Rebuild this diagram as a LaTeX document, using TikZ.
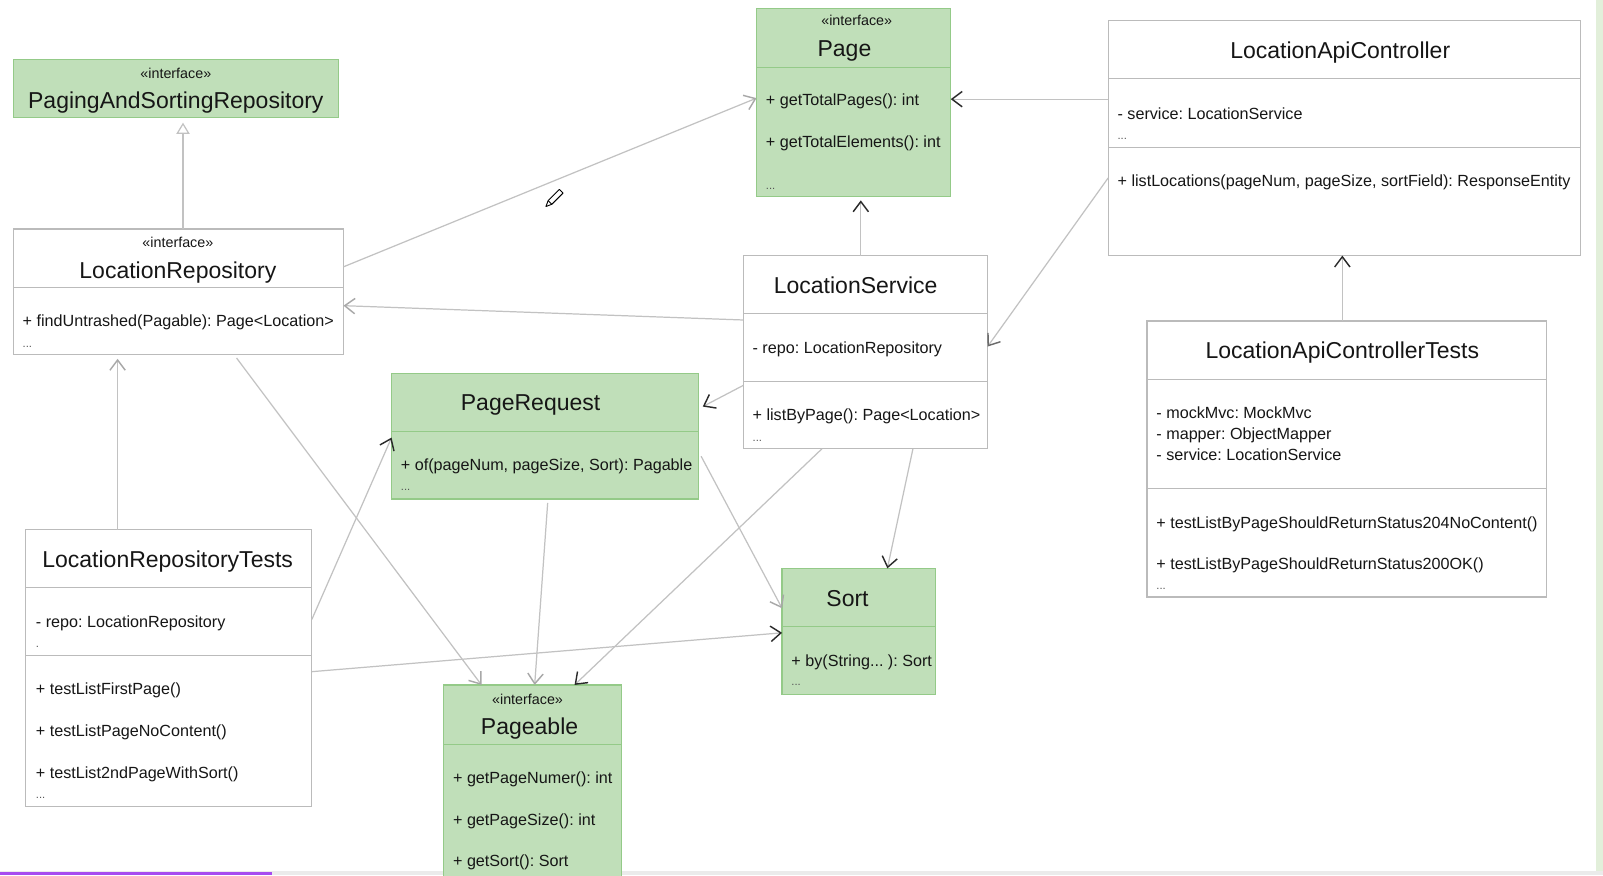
\documentclass[tikz,border=0pt]{standalone}
\usepackage{fontspec}
\setmainfont{Liberation Sans}
\frenchspacing
\usetikzlibrary{arrows.meta}
\definecolor{gfill}{HTML}{C0DFB9}
\definecolor{gline}{HTML}{94CA88}
\definecolor{bline}{HTML}{BBBBBB}
\definecolor{conn}{HTML}{C2C2C2}
\definecolor{txt}{HTML}{161616}
\definecolor{dottxt}{HTML}{555555}
\definecolor{tipdark}{HTML}{2A2A2A}
\definecolor{tipmid}{HTML}{6A6A6A}
\definecolor{tipgray}{HTML}{A8A8A8}
\definecolor{edgegreen}{HTML}{E2EFDA}
\definecolor{barpurple}{HTML}{A64CF0}
\tikzset{
  wbox/.style={draw=bline, fill=white, line width=1.2pt, anchor=north west, inner sep=0pt, outer sep=0pt},
  gbox/.style={draw=gline, fill=gfill, line width=1.2pt, anchor=north west, inner sep=0pt, outer sep=0pt},
  wsep/.style={draw=bline, line width=1.2pt},
  gsep/.style={draw=gline, line width=1.2pt},
  ttl/.style={anchor=base, inner sep=0pt, text=txt, font=\fontsize{22.5}{26}\selectfont},
  ster/.style={anchor=base, inner sep=0pt, text=txt, font=\fontsize{14}{16}\selectfont},
  mem/.style={anchor=base west, inner sep=0pt, text=txt, font=\fontsize{15.8}{18}\selectfont},
  dots/.style={anchor=base west, inner sep=0pt, text=dottxt, font=\fontsize{11}{13}\selectfont},
  conn/.style={draw=conn, line width=1.2pt},
  dk/.style={-{Straight Barb[length=10pt,width=15pt,color=tipdark,line width=1.4pt]}},
  md/.style={-{Straight Barb[length=10pt,width=15pt,color=tipmid,line width=1.4pt]}},
  gy/.style={-{Straight Barb[length=10pt,width=15pt,color=tipgray,line width=1.4pt]}},
  gen/.style={-{Triangle[open,fill=white,length=11pt,width=13pt,color=conn,line width=1.2pt]}}
}
\begin{document}
\begin{tikzpicture}[x=1pt,y=-1pt]
\useasboundingbox (0,0) rectangle (1568,856);
\clip (0,0) rectangle (1568,856);
\fill[white] (0,0) rectangle (1568,856);
\fill[edgegreen] (1561,0) rectangle (1568,856);
\fill[black!8] (0,852) rectangle (1568,856);
\fill[barpurple] (0,853) rectangle (266,856);

% ---------- boxes ----------
\node[gbox, minimum width=318pt, minimum height=57pt] (psr) at (13,58) {};
\node[ster] (psrs) at (172,77) {«interface»};
\node[ttl] (psrt) at (172,106) {PagingAndSortingRepository};

\node[wbox, minimum width=323pt, minimum height=123pt] (lr) at (13,224) {};
\node[ster] (lrs) at (174,242) {«interface»};
\node[ttl] (lrt0) at (174,272) {LocationRepository};
\draw[wsep] (lr.west |- 0,281) -- (lr.east |- 0,281);
\node[mem] (lrm1) at (22,319.5) {+ findUntrashed(Pagable): Page<Location>};
\node[dots] (lrd) at (22,340) {...};

\node[gbox, minimum width=190pt, minimum height=184pt] (page) at (740,8) {};
\node[ster] (pages) at (838,25) {«interface»};
\node[ttl] (paget) at (826,55) {Page};
\draw[gsep] (page.west |- 0,66) -- (page.east |- 0,66);
\node[mem] (pagem1) at (749,103.5) {+ getTotalPages(): int};
\node[mem] (pagem2) at (749,144.5) {+ getTotalElements(): int};
\node[dots] (paged) at (749,185) {...};

\node[wbox, minimum width=462pt, minimum height=230pt] (lac) at (1084,20) {};
\node[ttl] (lact0) at (1311,57) {LocationApiController};
\draw[wsep] (lac.west |- 0,77) -- (lac.east |- 0,77);
\node[mem] (lacm1) at (1093,116.5) {- service: LocationService};
\node[dots] (lacd) at (1093,136) {...};
\draw[wsep] (lac.west |- 0,144) -- (lac.east |- 0,144);
\node[mem] (lacm2) at (1093,182.5) {+ listLocations(pageNum, pageSize, sortField): ResponseEntity};

\node[wbox, minimum width=239pt, minimum height=189pt] (ls) at (727,250) {};
\node[ttl] (lst) at (837,287) {LocationService};
\draw[wsep] (ls.west |- 0,307) -- (ls.east |- 0,307);
\node[mem] (lsm1) at (736,345.5) {- repo: LocationRepository};
\draw[wsep] (ls.west |- 0,373) -- (ls.east |- 0,373);
\node[mem] (lsm2) at (736,411.5) {+ listByPage(): Page<Location>};
\node[dots] (lsd) at (736,432) {...};

\node[gbox, minimum width=300pt, minimum height=123pt] (pr) at (383,365) {};
\node[ttl] (prt) at (519,402) {PageRequest};
\draw[gsep] (pr.west |- 0,422) -- (pr.east |- 0,422);
\node[mem] (prm1) at (392,460.5) {+ of(pageNum, pageSize, Sort): Pagable};
\node[dots] (prd) at (392,480) {...};

\node[wbox, minimum width=391pt, minimum height=270pt] (lact) at (1122,314) {};
\node[ttl] (lactt) at (1313,351) {LocationApiControllerTests};
\draw[wsep] (lact.west |- 0,371) -- (lact.east |- 0,371);
\node[mem] (lactm1) at (1131,409.5) {- mockMvc: MockMvc};
\node[mem] (lactm2) at (1131,429.5) {- mapper: ObjectMapper};
\node[mem] (lactm3) at (1131,450.5) {- service: LocationService};
\draw[wsep] (lact.west |- 0,478) -- (lact.east |- 0,478);
\node[mem] (lactm4) at (1131,516.5) {+ testListByPageShouldReturnStatus204NoContent()};
\node[mem] (lactm5) at (1131,557.5) {+ testListByPageShouldReturnStatus200OK()};
\node[dots] (lactd) at (1131,577) {...};

\node[wbox, minimum width=280pt, minimum height=271pt] (lrt) at (25,518) {};
\node[ttl] (lrtt) at (164,555) {LocationRepositoryTests};
\draw[wsep] (lrt.west |- 0,575) -- (lrt.east |- 0,575);
\node[mem] (lrtm1) at (35,613.5) {- repo: LocationRepository};
\node[dots] (lrtd1) at (35,633) {.};
\draw[wsep] (lrt.west |- 0,641) -- (lrt.east |- 0,641);
\node[mem] (lrtm2) at (35,679.5) {+ testListFirstPage()};
\node[mem] (lrtm3) at (35,720.5) {+ testListPageNoContent()};
\node[mem] (lrtm4) at (35,761.5) {+ testList2ndPageWithSort()};
\node[dots] (lrtd2) at (35,781) {...};

\node[gbox, minimum width=150pt, minimum height=123pt] (sort) at (765,556) {};
\node[ttl] (sortt) at (829,593) {Sort};
\draw[gsep] (sort.west |- 0,613) -- (sort.east |- 0,613);
\node[mem] (sortm1) at (774,651.5) {+ by(String... ): Sort};
\node[dots] (sortd) at (774,671) {...};

\node[gbox, minimum width=174pt, minimum height=200pt] (pg) at (434,670) {};
\node[ster] (pgs) at (516,689) {«interface»};
\node[ttl] (pgt) at (518,718) {Pageable};
\draw[gsep] (pg.west |- 0,728) -- (pg.east |- 0,728);
\node[mem] (pgm1) at (443,766.5) {+ getPageNumer(): int};
\node[mem] (pgm2) at (443,807.5) {+ getPageSize(): int};
\node[mem] (pgm3) at (443,847.5) {+ getSort(): Sort};

% ---------- connectors ----------
\draw[conn, gen, shorten >=5pt] (179,0 |- lr.north) -- (179,0 |- psr.south);
\draw[conn, gy] (lr.east |- 0,261) -- (page.west |- 0,96);
\draw[conn, gy] (ls.west |- 0,313) -- (lr.east |- 0,299);
\draw[conn, dk, shorten >=4pt] (842,0 |- ls.north) -- (842,0 |- page.south);
\draw[conn, dk] (lac.west |- 0,97) -- (page.east |- 0,97);
\draw[conn, md] (lac.west |- 0,174) -- (ls.east |- 0,339);
\draw[conn, dk] (1313,0 |- lact.north) -- (1313,0 |- lac.south);
\draw[conn, dk, shorten >=5pt] (ls.west |- 0,377) -- (pr.east |- 0,400);
\draw[conn, dk] (893,0 |- ls.south) -- (868,0 |- sort.north);
\draw[conn, dk] (804,0 |- ls.south) -- (562,0 |- pg.north);
\draw[conn, gy, shorten <=6pt] (pr.east |- 0,441) -- (sort.west |- 0,595);
\draw[conn, gy, shorten <=4pt] (536,0 |- pr.south) -- (523,0 |- pg.north);
\draw[conn, gy, shorten <=4pt] (229,0 |- lr.south) -- (471,0 |- pg.north);
\draw[conn, gy, shorten >=4pt] (115,0 |- lrt.north) -- (115,0 |- lr.south);
\draw[conn, dk] (lrt.east |- 0,606) -- (pr.west |- 0,428);
\draw[conn, dk] (lrt.east |- 0,657) -- (sort.west |- 0,619);

% ---------- pencil cursor ----------
\draw[black, line width=0.9pt, line join=round, fill=white]
  (547.2,185.2) -- (550.8,188.8) -- (539.8,199.8) -- (534,202) -- (536.2,196.2) -- cycle;
\draw[black, line width=0.9pt] (536.2,196.2) -- (539.8,199.8);
\end{tikzpicture}
\end{document}
